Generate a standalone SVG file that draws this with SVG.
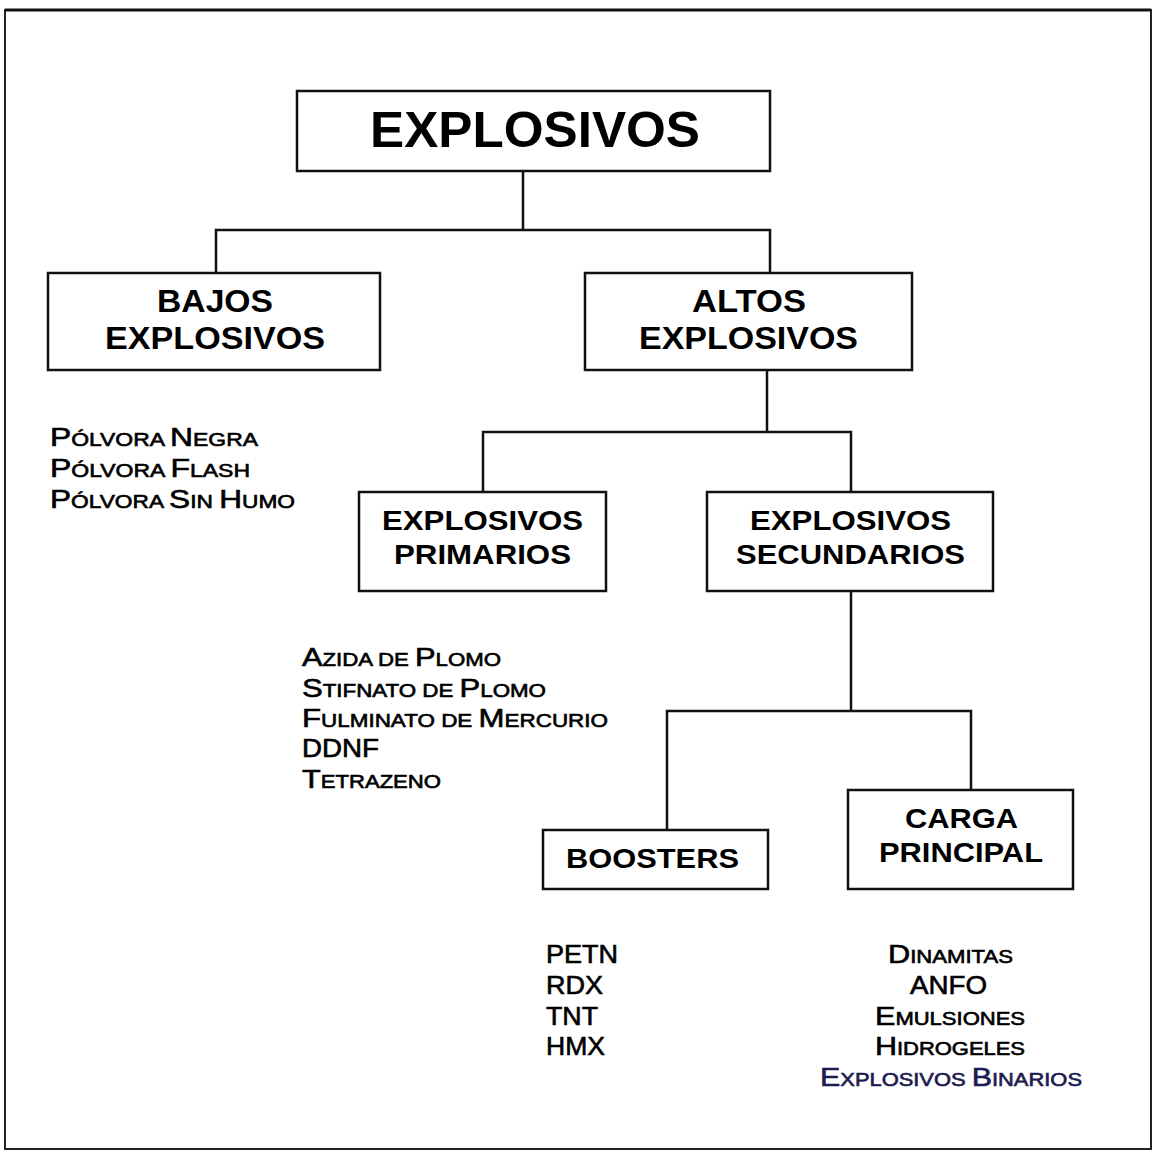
<svg xmlns="http://www.w3.org/2000/svg" width="1155" height="1151" viewBox="0 0 1155 1151">
<style>
.box{fill:#fff;stroke:#111;stroke-width:2.5}
.ln{stroke:#111;stroke-width:2.5;fill:none;stroke-linecap:square}
.h{font-family:"Liberation Sans",Arial,sans-serif;font-weight:700;fill:#000}
.h1{font-size:50px}
.h2{font-size:31px}
.h3{font-size:28px}
.li{font-family:"Liberation Sans",Arial,sans-serif;font-size:25px;fill:#000;stroke:#000;stroke-width:0.6}
.sc{font-size:18px}
.navy{fill:#1c1c50;stroke:#1c1c50}
</style>
<rect x="0" y="0" width="1155" height="1151" fill="#fff"/>
<rect x="5" y="10" width="1146" height="1139" fill="none" stroke="#222" stroke-width="2"/>
<line x1="5" y1="10" x2="1151" y2="10" stroke="#111" stroke-width="3"/>

<g id="connectors">
<path class="ln" d="M523 171V230M216 273V230H770V273"/>
<path class="ln" d="M767 370V432M483 492V432H851V492"/>
<path class="ln" d="M851 591V711M667 830V711H971V790"/>
</g>

<g id="explosivos">
<rect class="box" x="297" y="91" width="473" height="80"/>
<text class="h h1" x="370" y="147" textLength="330" lengthAdjust="spacingAndGlyphs">EXPLOSIVOS</text>
</g>

<g id="bajos">
<rect class="box" x="48" y="273" width="332" height="97"/>
<text class="h h2" x="157" y="312" textLength="116" lengthAdjust="spacingAndGlyphs">BAJOS</text>
<text class="h h2" x="105" y="349" textLength="220" lengthAdjust="spacingAndGlyphs">EXPLOSIVOS</text>
</g>

<g id="altos">
<rect class="box" x="585" y="273" width="327" height="97"/>
<text class="h h2" x="692" y="312" textLength="114" lengthAdjust="spacingAndGlyphs">ALTOS</text>
<text class="h h2" x="639" y="349" textLength="219" lengthAdjust="spacingAndGlyphs">EXPLOSIVOS</text>
</g>

<g id="primarios">
<rect class="box" x="359" y="492" width="247" height="99"/>
<text class="h h3" x="382" y="530" textLength="201" lengthAdjust="spacingAndGlyphs">EXPLOSIVOS</text>
<text class="h h3" x="394" y="564" textLength="177" lengthAdjust="spacingAndGlyphs">PRIMARIOS</text>
</g>

<g id="secundarios">
<rect class="box" x="707" y="492" width="286" height="99"/>
<text class="h h3" x="750" y="530" textLength="201" lengthAdjust="spacingAndGlyphs">EXPLOSIVOS</text>
<text class="h h3" x="736" y="564" textLength="229" lengthAdjust="spacingAndGlyphs">SECUNDARIOS</text>
</g>

<g id="boosters">
<rect class="box" x="543" y="830" width="225" height="59"/>
<text class="h h3" x="566" y="868" textLength="173" lengthAdjust="spacingAndGlyphs">BOOSTERS</text>
</g>

<g id="carga">
<rect class="box" x="848" y="790" width="225" height="99"/>
<text class="h h3" x="905" y="828" textLength="113" lengthAdjust="spacingAndGlyphs">CARGA</text>
<text class="h h3" x="879" y="862" textLength="164" lengthAdjust="spacingAndGlyphs">PRINCIPAL</text>
</g>

<g id="lista-bajos">
<text class="li" x="50" y="446" textLength="208" lengthAdjust="spacingAndGlyphs">P<tspan class="sc">ÓLVORA </tspan>N<tspan class="sc">EGRA</tspan></text>
<text class="li" x="50" y="477" textLength="200" lengthAdjust="spacingAndGlyphs">P<tspan class="sc">ÓLVORA </tspan>F<tspan class="sc">LASH</tspan></text>
<text class="li" x="50" y="508" textLength="245" lengthAdjust="spacingAndGlyphs">P<tspan class="sc">ÓLVORA </tspan>S<tspan class="sc">IN </tspan>H<tspan class="sc">UMO</tspan></text>
</g>

<g id="lista-primarios">
<text class="li" x="302" y="666" textLength="199" lengthAdjust="spacingAndGlyphs">A<tspan class="sc">ZIDA DE </tspan>P<tspan class="sc">LOMO</tspan></text>
<text class="li" x="302" y="697" textLength="244" lengthAdjust="spacingAndGlyphs">S<tspan class="sc">TIFNATO DE </tspan>P<tspan class="sc">LOMO</tspan></text>
<text class="li" x="302" y="727" textLength="306" lengthAdjust="spacingAndGlyphs">F<tspan class="sc">ULMINATO DE </tspan>M<tspan class="sc">ERCURIO</tspan></text>
<text class="li" x="302" y="757" textLength="77" lengthAdjust="spacingAndGlyphs">DDNF</text>
<text class="li" x="302" y="788" textLength="139" lengthAdjust="spacingAndGlyphs">T<tspan class="sc">ETRAZENO</tspan></text>
</g>

<g id="lista-boosters">
<text class="li" x="546" y="963" textLength="72" lengthAdjust="spacingAndGlyphs">PETN</text>
<text class="li" x="546" y="994" textLength="57" lengthAdjust="spacingAndGlyphs">RDX</text>
<text class="li" x="546" y="1025" textLength="52" lengthAdjust="spacingAndGlyphs">TNT</text>
<text class="li" x="546" y="1055" textLength="59" lengthAdjust="spacingAndGlyphs">HMX</text>
</g>

<g id="lista-carga">
<text class="li" x="888" y="963" textLength="125" lengthAdjust="spacingAndGlyphs">D<tspan class="sc">INAMITAS</tspan></text>
<text class="li" x="910" y="994" textLength="77" lengthAdjust="spacingAndGlyphs">ANFO</text>
<text class="li" x="875" y="1025" textLength="150" lengthAdjust="spacingAndGlyphs">E<tspan class="sc">MULSIONES</tspan></text>
<text class="li" x="875" y="1055" textLength="150" lengthAdjust="spacingAndGlyphs">H<tspan class="sc">IDROGELES</tspan></text>
<text class="li navy" x="820" y="1086" textLength="262" lengthAdjust="spacingAndGlyphs">E<tspan class="sc">XPLOSIVOS </tspan>B<tspan class="sc">INARIOS</tspan></text>
</g>
</svg>
